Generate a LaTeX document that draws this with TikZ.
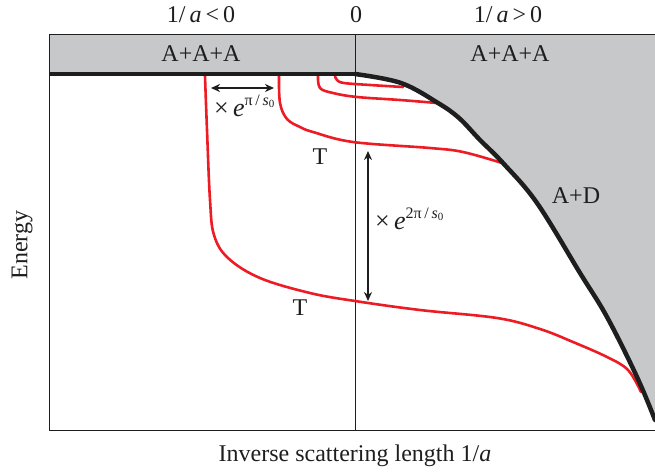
\documentclass[tikz,border=0pt]{standalone}
\usepackage{fontspec}
\setmainfont{Liberation Serif}
\usetikzlibrary{arrows.meta}
\definecolor{bandgray}{RGB}{199,200,202}
\definecolor{curvered}{RGB}{237,28,36}
\definecolor{inkblack}{RGB}{30,30,30}
\newcommand{\suptxt}[1]{\raisebox{0.42em}{\fontsize{16}{16}\selectfont #1}}
\newcommand{\subtxt}[1]{\raisebox{-0.18em}{\fontsize{11}{11}\selectfont #1}}
\tikzset{
  lbl/.style={font=\fontsize{24}{28}\selectfont, inner sep=0pt, text=inkblack},
  explbl/.style={font=\fontsize{26}{30}\selectfont, inner sep=0pt, text=inkblack},
  redcurve/.style={draw=curvered, line width=2.6pt, line cap=round, line join=round},
  thin frame/.style={draw=inkblack, line width=1pt},
  dblarrow/.style={draw=inkblack, line width=2.2pt, {Stealth[length=9pt,width=8pt]}-{Stealth[length=9pt,width=8pt]}}
}
\begin{document}
\begin{tikzpicture}[x=1pt,y=-1pt]
\useasboundingbox (0,0) rectangle (655,474);
% gray band
\fill[bandgray] (49,34) rectangle (655,74);
% gray region right of boundary
\fill[bandgray] plot[smooth, tension=0.6] coordinates {(355,74) (401,83) (438,103) (459,118) (480,140) (503,163) (537,203) (580,273) (607,317) (637,377) (655,420)} -- (655,74) -- cycle;
% frame
\draw[thin frame] (655,34) -- (49,34) -- (49,430) -- (655,430);
\draw[thin frame] (355,34) -- (355,430);
% red curves
\draw[redcurve] plot[smooth, tension=0.6] coordinates {(335,76) (337,80) (344,83) (370,85) (403,87)};
\draw[redcurve] plot[smooth, tension=0.6] coordinates {(318,76) (320,88) (333,93) (357,97) (400,100) (437,103)};
\draw[redcurve] plot[smooth, tension=0.6] coordinates {(279,76) (280,103) (287,119) (300,127) (313,132) (353,142) (430,148) (463,152) (502,163)};
\draw[redcurve] plot[smooth, tension=0.6] coordinates {(205,76) (207,130) (210,200) (214,235) (228,258) (260,278) (310,293) (355,301) (420,310) (497,318) (540,329) (573,342) (607,357) (628,370) (641,392)};
% thick top line and boundary
\draw[draw=inkblack, line width=4.5pt] (49,74) -- (355,74);
\draw[draw=inkblack, line width=4.5pt, line cap=round] plot[smooth, tension=0.6] coordinates {(355,74) (401,83) (438,103) (459,118) (480,140) (503,163) (537,203) (580,273) (607,317) (637,377) (655,420)};
% arrows
\coordinate (hl) at (211,88);
\coordinate (hr) at (274,88);
\draw[dblarrow] (hl) -- (hr);
\coordinate (vt) at (368,151);
\coordinate (vb) at (368,301);
\draw[dblarrow] (vt) -- (vb);
% labels
\node[lbl] (top1) at (201,15) {1/\,\textit{a}\,<\,0};
\node[lbl] (top2) at (356,15) {0};
\node[lbl] (top3) at (508,15) {1/\,\textit{a}\,>\,0};
\node[lbl] (bandL) at (201,54) {A+A+A};
\node[lbl] (bandR) at (510,54) {A+A+A};
\node[explbl, anchor=base west] (hlab) at (214,116) {×\,\textit{e}\suptxt{π\,/\,\textit{s}\subtxt{0}}};
\node[explbl, anchor=base west] (vlab) at (375,229) {×\,\textit{e}\suptxt{2π\,/\,\textit{s}\subtxt{0}}};
\node[lbl] (T1) at (320,157) {T};
\node[lbl] (T2) at (300,308) {T};
\node[lbl] (AD) at (576,196) {A+D};
\node[lbl, rotate=90] (energy) at (22,245) {Energy};
\node[lbl] (xlab) at (355,456) {Inverse scattering length 1/\textit{a}};
\end{tikzpicture}
\end{document}
